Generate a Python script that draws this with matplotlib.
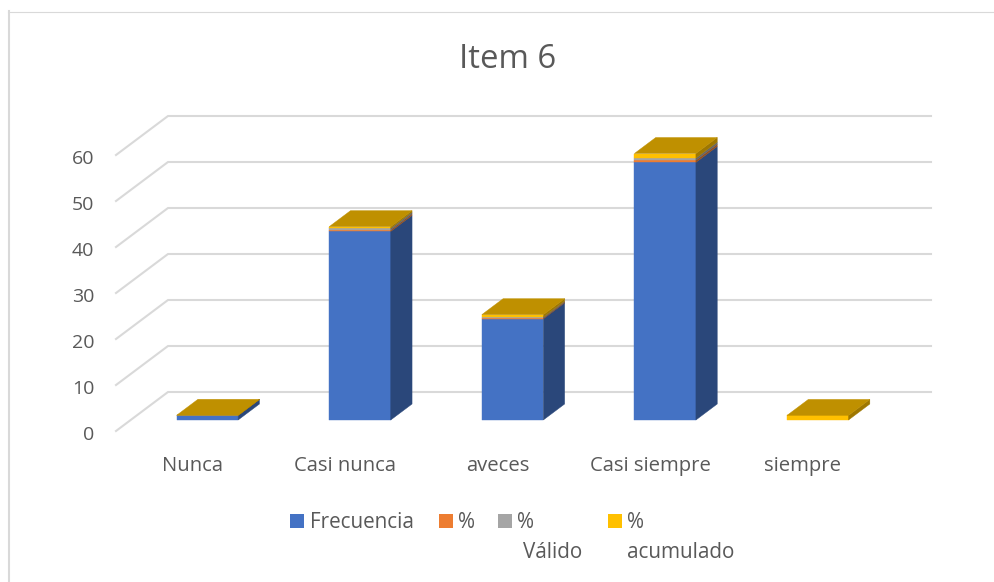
import numpy as np
import matplotlib
matplotlib.use('Agg')
import matplotlib.pyplot as plt
from matplotlib.patches import Polygon, Rectangle
from matplotlib.colors import to_rgb
from matplotlib.transforms import ScaledTranslation

W, H = 995, 582

categorias = ['Nunca', 'Casi nunca', 'aveces', 'Casi siempre', 'siempre']
frecuencia = [1, 41, 22, 56, 0]
porcentaje = [0.008, 0.342, 0.183, 0.467, 0.0]
valido = [0.008, 0.342, 0.183, 0.467, 0.0]
acumulado = [0.008, 0.35, 0.533, 1.0, 1.0]
nombres = ['Frecuencia', '%', '%\nVálido', '%\nacumulado']
colores = ['#4472C4', '#ED7D31', '#A5A5A5', '#FFC000']
y_ticks = [0, 10, 20, 30, 40, 50, 60]

plt.rcParams['font.family'] = ['Open Sans', 'DejaVu Sans']
TEXTO = '#595959'
GRID = '#D9D9D9'

# plano frontal del grafico en pixeles
x0, x1 = 116, 879
y0, y1 = 431, 155
fig = plt.figure(figsize=(W / 100, H / 100), dpi=100)
ax = fig.add_axes([x0 / W, 1 - y0 / H, (x1 - x0) / W, (y0 - y1) / H])
ax.set_xlim(0, 5)
ax.set_ylim(0, 60)
ax.patch.set_alpha(0)
for s in ax.spines.values():
    s.set_visible(False)

# profundidad de la caja en unidades de datos
px_x = (x1 - x0) / 5
px_y = (y0 - y1) / 60
dx = 52 / px_x
dy = 39 / px_y


def oblicua(x, y, d):
    return (x + d * dx, y + d * dy)


def cara(puntos, color, z):
    ax.add_patch(Polygon([oblicua(*p) for p in puntos], closed=True, facecolor=color,
                         edgecolor=color, lw=0.3, clip_on=False, zorder=z))


def oscuro(c, f):
    return tuple(v * f for v in to_rgb(c))


# rejilla: diagonal del suelo/pared y linea del fondo
for v in y_ticks:
    a = oblicua(0, v, 0)
    b = oblicua(0, v, 1)
    c = oblicua(5, v, 1)
    ax.plot([a[0], b[0], c[0]], [a[1], b[1], c[1]], color=GRID, lw=1.5, clip_on=False, zorder=1)

ancho = 61.5 / px_x
d_ini = 11 / 39
d_fin = 27 / 39
ajuste = 0.4 / px_x
series = [frecuencia, porcentaje, valido, acumulado]
base = np.zeros(5)
tope = np.sum(series, axis=0)

for valores, color in zip(series, colores):
    for i, v in enumerate(valores):
        if v == 0:
            continue
        iz = i + 0.5 - ancho / 2 + ajuste
        de = iz + ancho
        y_a = base[i]
        y_b = base[i] + v
        cara([(iz, y_a, d_ini), (de, y_a, d_ini), (de, y_b, d_ini), (iz, y_b, d_ini)], color, 3)
        cara([(de, y_a, d_ini), (de, y_a, d_fin), (de, y_b, d_fin), (de, y_b, d_ini)],
             oscuro(color, 0.62), 3)
    base = base + np.array(valores)

# tapa superior de cada columna
for i in range(5):
    iz = i + 0.5 - ancho / 2 + ajuste
    de = iz + ancho
    cara([(iz, tope[i], d_ini), (de, tope[i], d_ini), (de, tope[i], d_fin), (iz, tope[i], d_fin)],
         oscuro(colores[3], 0.75), 4)

ax.set_xticks(np.arange(5) + 0.5, categorias)
ax.set_yticks(y_ticks)
ax.tick_params(axis='x', length=0, pad=18, labelsize=14.6, labelcolor=TEXTO)
ax.tick_params(axis='y', length=0, pad=15.5, labelsize=14, labelcolor=TEXTO)
baja = ScaledTranslation(0, -1.5 / 100, fig.dpi_scale_trans)
for t in ax.get_yticklabels():
    t.set_transform(t.get_transform() + baja)

fig.text(508 / W, 1 - 60 / H, 'Item 6', ha='center', va='center', fontsize=23.7, color=TEXTO)

# leyenda manual, el texto va partido como en el original
cuadros = [290, 439, 498, 608]
textos = [310, 458, 517, 627]
for nombre, color, xc, xt in zip(nombres, colores, cuadros, textos):
    fig.add_artist(Rectangle((xc / W, 1 - 528 / H), 14 / W, 14 / H, transform=fig.transFigure,
                             facecolor=color, edgecolor='none'))
    partes = nombre.split('\n')
    fig.text(xt / W, 1 - 523 / H, partes[0], ha='left', va='center', fontsize=14.9, color=TEXTO)
    if len(partes) > 1:
        fig.text((xt + 6 if partes[1] == 'Válido' else xt) / W, 1 - 553 / H, partes[1],
                 ha='left', va='center', fontsize=14.9, color=TEXTO)

# marco del grafico: solo arriba y a la izquierda llega a verse
fig.add_artist(plt.Line2D([9 / W, 9 / W], [0, 1 - 11 / H], color=GRID, lw=1.5,
                          transform=fig.transFigure))
fig.add_artist(plt.Line2D([8 / W, 1], [1 - 11.5 / H, 1 - 11.5 / H], color=GRID, lw=0.8,
                          transform=fig.transFigure))

fig.savefig('out.png', dpi=100)
